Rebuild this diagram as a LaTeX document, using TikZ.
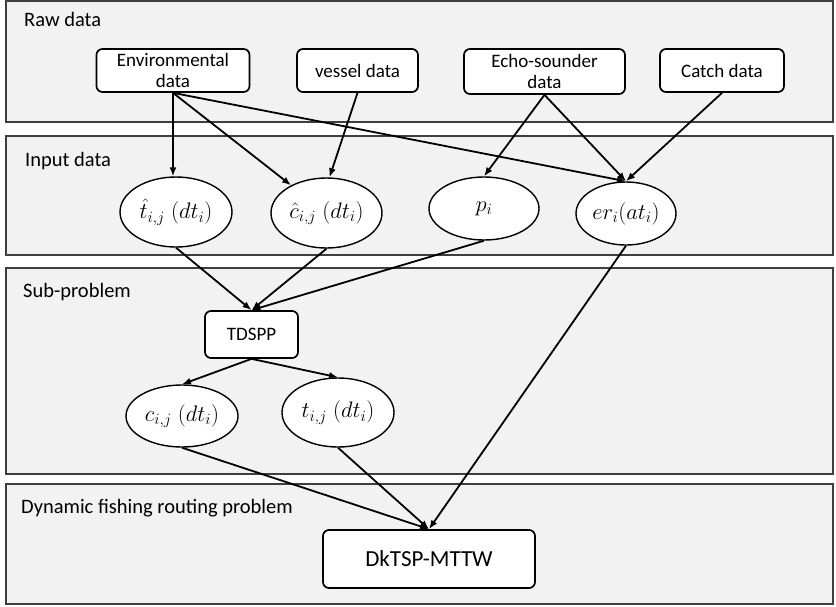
\RequirePackage{fix-cm}
\documentclass[tikz,border=0pt]{standalone}
\usepackage{fontspec}
\setmainfont{Carlito}
\usetikzlibrary{arrows.meta,shapes.geometric}
\definecolor{panelfill}{HTML}{F2F2F2}
\definecolor{panelline}{HTML}{3F3F3F}

\begin{document}
\begin{tikzpicture}[x=1pt,y=-1pt,
  panel/.style={draw=panelline,fill=panelfill,line width=1.6pt},
  paneltitle/.style={anchor=base west,inner sep=0pt,font=\fontsize{20.5}{24}\selectfont},
  databox/.style={draw,fill=white,rounded corners=6pt,line width=1.7pt,align=center,
    inner sep=0pt,font=\fontsize{19}{21}\selectfont},
  var/.style={ellipse,draw,fill=white,line width=1.4pt,inner sep=0pt,
    font=\fontsize{22.5}{26}\selectfont},
  flow/.style={line width=1.8pt,-{Latex[length=9pt,width=7pt]}}
]
\useasboundingbox (0,0) rectangle (836,606);

% layer panels
\draw[panel] (6,1) rectangle (833,122);
\draw[panel] (6,136) rectangle (833,255);
\draw[panel] (6,268) rectangle (833,474);
\draw[panel] (6,484) rectangle (833,604);
\node[paneltitle] (traw) at (24,26) {Raw data};
\node[paneltitle] (tinput) at (25,166) {Input data};
\node[paneltitle] (tsub) at (23,297) {Sub-problem};
\node[paneltitle] (tdyn) at (21,513) {Dynamic fishing routing problem};

% raw data sources
\node[databox,minimum width=153pt,minimum height=43pt] (env) at (173,70.5) {Environmental\\data};
\node[databox,minimum width=121pt,minimum height=43pt] (vessel) at (357.5,70.5) {vessel data};
\node[databox,minimum width=161pt,minimum height=45pt] (echo) at (544.5,71.5) {Echo-sounder\\data};
\node[databox,minimum width=124pt,minimum height=43pt] (catch) at (722,70.5) {Catch data};

% input data
\node[var,minimum width=112pt,minimum height=70pt] (that) at (176,212) {$\hat{t}_{i,j}\;(dt_i)$};
\node[var,minimum width=111pt,minimum height=70pt] (chat) at (326.5,213) {$\hat{c}_{i,j}\;(dt_i)$};
\node[var,minimum width=110pt,minimum height=63pt] (p) at (484,208.5) {$p_i$};
\node[var,minimum width=100pt,minimum height=63pt] (er) at (626,213.5) {$er_i(at_i)$};

% sub-problem
\node[databox,minimum width=93pt,minimum height=47pt] (tdspp) at (251.5,334.5) {TDSPP};
\node[var,minimum width=112pt,minimum height=62pt] (c) at (182,416) {$c_{i,j}\;(dt_i)$};
\node[var,minimum width=112pt,minimum height=69pt] (t) at (338,412.5) {$t_{i,j}\;(dt_i)$};

% routing problem
\node[databox,minimum width=212pt,minimum height=58pt,font=\fontsize{23}{26}\selectfont] (dk) at (429,559) {DkTSP-MTTW};

% connectors
\draw[flow] (env.south) -- (env.south |- that.north);
\draw[flow] (env.south) -- (chat);
\draw[flow] (env.south) -- (er.north);
\draw[flow] (vessel.south) -- ([xshift=3pt]chat.north);
\draw[flow] (echo.south) -- (p.north);
\draw[flow] (echo.south) -- (er.north);
\draw[flow] (catch.south) -- (er.north);
\draw[flow] (that.south) -- (tdspp.north);
\draw[flow] (chat.south) -- (tdspp.north);
\draw[flow] (p.south) -- (tdspp.north);
\draw[flow] (tdspp.south) -- (c.north);
\draw[flow] (tdspp.south) -- (t.north);
\draw[flow] (c.south) -- (dk.north);
\draw[flow] (t.south) -- (dk.north);
\draw[flow] (er.south) -- (dk.north);
\end{tikzpicture}
\end{document}
